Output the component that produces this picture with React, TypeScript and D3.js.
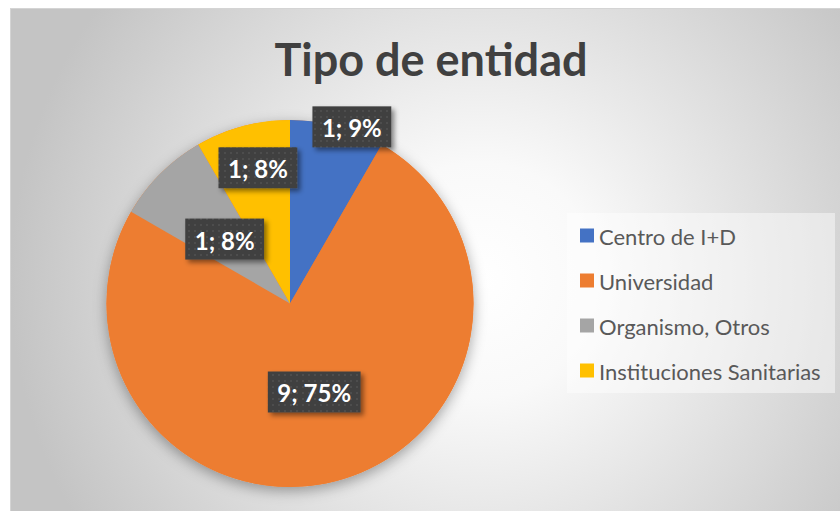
import React, { useRef, useEffect } from "react";
import * as d3 from "d3";

const categories = ["Centro de I+D", "Universidad", "Organismo, Otros", "Instituciones Sanitarias"];
const counts = [1, 9, 1, 1];
const percentLabels = ["9%", "75%", "8%", "8%"];
const colors = ["#4472C4", "#ED7D31", "#A5A5A5", "#FFC000"];
const title = "Tipo de entidad";

const W = 840;
const H = 511;
const FONT = "Lato, 'Open Sans', sans-serif";

export default function App() {
  const svgRef = useRef<SVGSVGElement>(null);

  useEffect(() => {
    const svg = d3.select(svgRef.current);
    svg.selectAll("*").remove();

    const defs = svg.append("defs");
    const grad = defs
      .append("radialGradient")
      .attr("id", "bg")
      .attr("gradientUnits", "userSpaceOnUse")
      .attr("cx", 480)
      .attr("cy", 280)
      .attr("r", 470);
    grad.append("stop").attr("offset", "0").attr("stop-color", "#ffffff");
    grad.append("stop").attr("offset", "0.25").attr("stop-color", "#f9f9f9");
    grad.append("stop").attr("offset", "1").attr("stop-color", "#c4c4c4");

    const pieShadow = defs.append("filter").attr("id", "pieShadow")
      .attr("x", "-20%").attr("y", "-20%").attr("width", "140%").attr("height", "140%");
    pieShadow.append("feDropShadow")
      .attr("dx", 0).attr("dy", 4).attr("stdDeviation", 7)
      .attr("flood-color", "#000").attr("flood-opacity", 0.35);

    const boxShadow = defs.append("filter").attr("id", "boxShadow")
      .attr("x", "-20%").attr("y", "-20%").attr("width", "150%").attr("height", "160%");
    boxShadow.append("feDropShadow")
      .attr("dx", 3).attr("dy", 3).attr("stdDeviation", 2.5)
      .attr("flood-color", "#000").attr("flood-opacity", 0.45);

    const dots = defs.append("pattern").attr("id", "dots")
      .attr("patternUnits", "userSpaceOnUse").attr("width", 6).attr("height", 6);
    dots.append("rect").attr("width", 6).attr("height", 6).attr("fill", "#404040");
    dots.append("rect").attr("x", 2).attr("y", 2).attr("width", 2).attr("height", 2).attr("fill", "#4e4e4e");

    // page + chart area
    svg.append("rect").attr("width", W).attr("height", H).attr("fill", "#ffffff");
    svg.append("rect")
      .attr("x", 10.5).attr("y", 8.5).attr("width", W - 10).attr("height", H - 8)
      .attr("fill", "url(#bg)").attr("stroke", "#d4d4d4").attr("stroke-width", 1);

    svg.append("text")
      .attr("x", 431).attr("y", 76)
      .attr("text-anchor", "middle")
      .attr("font-family", FONT).attr("font-weight", 700).attr("font-size", 45)
      .attr("fill", "#404040")
      .text(title);

    const cx = 290, cy = 303.5, r = 183.5;
    const pie = d3.pie<number>().sort(null).value(d => d);
    const arcs = pie(counts);
    const arc = d3.arc<d3.PieArcDatum<number>>().innerRadius(0).outerRadius(r);

    const g = svg.append("g").attr("transform", `translate(${cx},${cy})`);
    g.append("circle").attr("r", r).attr("fill", "#ED7D31").attr("filter", "url(#pieShadow)");
    g.selectAll("path.slice")
      .data(arcs)
      .join("path")
      .attr("class", "slice")
      .attr("d", arc)
      .attr("fill", (_, i) => colors[i]);

    // label placement (best-fit style): radius fraction and angle shift per slice
    const place = [
      { rf: 1.02, da: 4.3 },
      { rf: 0.5, da: -0.3 },
      { rf: 0.5, da: -0.4 },
      { rf: 0.76, da: 1.7 },
    ];

    arcs.forEach((a, i) => {
      const mid = (a.startAngle + a.endAngle) / 2 + (place[i].da * Math.PI) / 180;
      const rr = r * place[i].rf;
      const x = cx + rr * Math.sin(mid);
      const y = cy - rr * Math.cos(mid);
      const lg = svg.append("g");
      const rect = lg.append("rect").attr("fill", "url(#dots)").attr("filter", "url(#boxShadow)");
      const t = lg.append("text")
        .attr("x", x).attr("y", y + 1)
        .attr("text-anchor", "middle").attr("dominant-baseline", "central")
        .attr("font-family", FONT).attr("font-weight", 700).attr("font-size", 24)
        .attr("fill", "#ffffff")
        .text(`${counts[i]}; ${percentLabels[i]}`);
      const tw = (t.node() as SVGTextElement).getComputedTextLength();
      const bw = tw + 19;
      const bh = 41;
      rect.attr("x", x - bw / 2).attr("y", y - bh / 2).attr("width", bw).attr("height", bh);
    });

    // legend
    const legend = svg.append("g");
    legend.append("rect")
      .attr("x", 567).attr("y", 213).attr("width", 268).attr("height", 180)
      .attr("fill", "#ffffff").attr("fill-opacity", 0.45);
    const ly = d3.scaleBand<string>().domain(categories).range([213, 393]).paddingInner(0).paddingOuter(0);
    categories.forEach((c, i) => {
      const yc = (ly(c) as number) + ly.bandwidth() / 2;
      legend.append("rect")
        .attr("x", 580).attr("y", yc - 7).attr("width", 14).attr("height", 14)
        .attr("fill", colors[i]);
      legend.append("text")
        .attr("x", 599).attr("y", yc + 1)
        .attr("dominant-baseline", "central")
        .attr("font-family", FONT).attr("font-size", 22)
        .attr("fill", "#595959")
        .text(c);
    });
  }, []);

  return (
    <div style={{ position: "fixed", left: 0, top: 0 }}>
      <svg ref={svgRef} width={W} height={H} style={{ display: "block" }} />
    </div>
  );
}
